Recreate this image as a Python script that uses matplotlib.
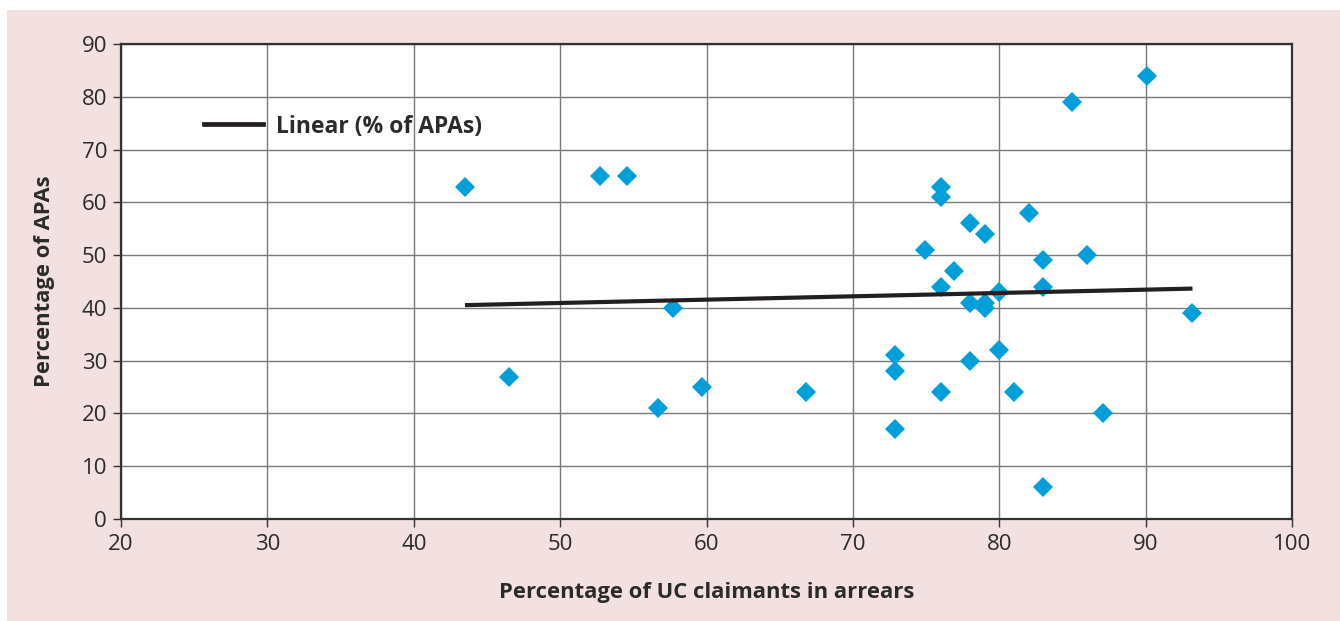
import numpy as np
import matplotlib.pyplot as plt
from matplotlib.patches import Rectangle
from matplotlib.lines import Line2D

# =====================================
# DATA
# =====================================

arrears_pct = [43.5, 46.5, 52.7, 54.6, 56.7, 57.7, 59.7, 66.8,
               72.9, 72.9, 72.9, 74.9, 76.0, 76.0, 76.0, 76.0,
               76.9, 78.0, 78.0, 78.0, 79.0, 79.0, 79.0, 80.0,
               80.0, 81.0, 82.0, 83.0, 83.0, 83.0, 85.0, 86.0,
               87.1, 90.1, 93.2]

apa_pct = [63, 27, 65, 65, 21, 40, 25, 24,
           31, 28, 17, 51, 63, 61, 44, 24,
           47, 56, 41, 30, 54, 41, 40, 43,
           32, 24, 58, 49, 44, 6, 79, 50,
           20, 84, 39]

x_ticks = [20, 30, 40, 50, 60, 70, 80, 90, 100]
y_ticks = [0, 10, 20, 30, 40, 50, 60, 70, 80, 90]

# =====================================
# STYLE
# =====================================

plt.rcParams['font.family'] = ['Open Sans', 'DejaVu Sans']

PINK = "#f3e0e1"
BLUE = "#009fda"
TEXT = "#2b2b2b"

fig = plt.figure(figsize=(13.4, 6.21), dpi=100)
fig.patch.set_facecolor("white")
fig.patches.append(Rectangle((7 / 1340, 0), 1 - 7 / 1340, 1 - 10 / 621,
                             transform=fig.transFigure, facecolor=PINK,
                             edgecolor="none", zorder=-10))

ax = fig.add_axes([121 / 1340, 1 - 519 / 621, 1171 / 1340, 475 / 621])
ax.set_facecolor("white")

# =====================================
# POINTS + TREND
# =====================================

ax.plot(arrears_pct, apa_pct, linestyle="none", marker="D",
        markersize=10.3, color=BLUE, markeredgewidth=0, zorder=3)

slope, intercept = np.polyfit(arrears_pct, apa_pct, 1)
x_fit = np.array([min(arrears_pct), max(arrears_pct)])
ax.plot(x_fit, slope * x_fit + intercept, color="#231f20",
        linewidth=3.0, zorder=4, solid_capstyle="butt")

# =====================================
# AXES
# =====================================

ax.set_xlim(20, 100)
ax.set_ylim(0, 90)
ax.set_xticks(x_ticks)
ax.set_yticks(y_ticks)

ax.grid(True, color="#7a7a7a", linewidth=1.0)
ax.set_axisbelow(True)

for side in ["left", "bottom", "top", "right"]:
    ax.spines[side].set_color("#333333")
    ax.spines[side].set_linewidth(1.6)

ax.tick_params(axis="both", direction="out", length=6, width=1.0,
               color="#333333", labelsize=16, labelcolor=TEXT)
ax.tick_params(axis="x", pad=5)
ax.tick_params(axis="y", pad=4)

ax.set_xlabel("Percentage of UC claimants in arrears", fontsize=15.8,
              fontweight="bold", color=TEXT, labelpad=19)
ax.set_ylabel("Percentage of APAs", fontsize=15.8, fontweight="bold",
              color=TEXT, labelpad=19)

handle = Line2D([0], [0], color="#231f20", linewidth=3.4)
leg = ax.legend([handle], ["Linear (% of APAs)"], loc="upper left",
                bbox_to_anchor=(0.053, 0.895), frameon=False,
                handlelength=2.6, handletextpad=0.55,
                prop={"size": 16.5, "weight": "bold"})
for t in leg.get_texts():
    t.set_color(TEXT)

fig.savefig("out.png", dpi=100)
